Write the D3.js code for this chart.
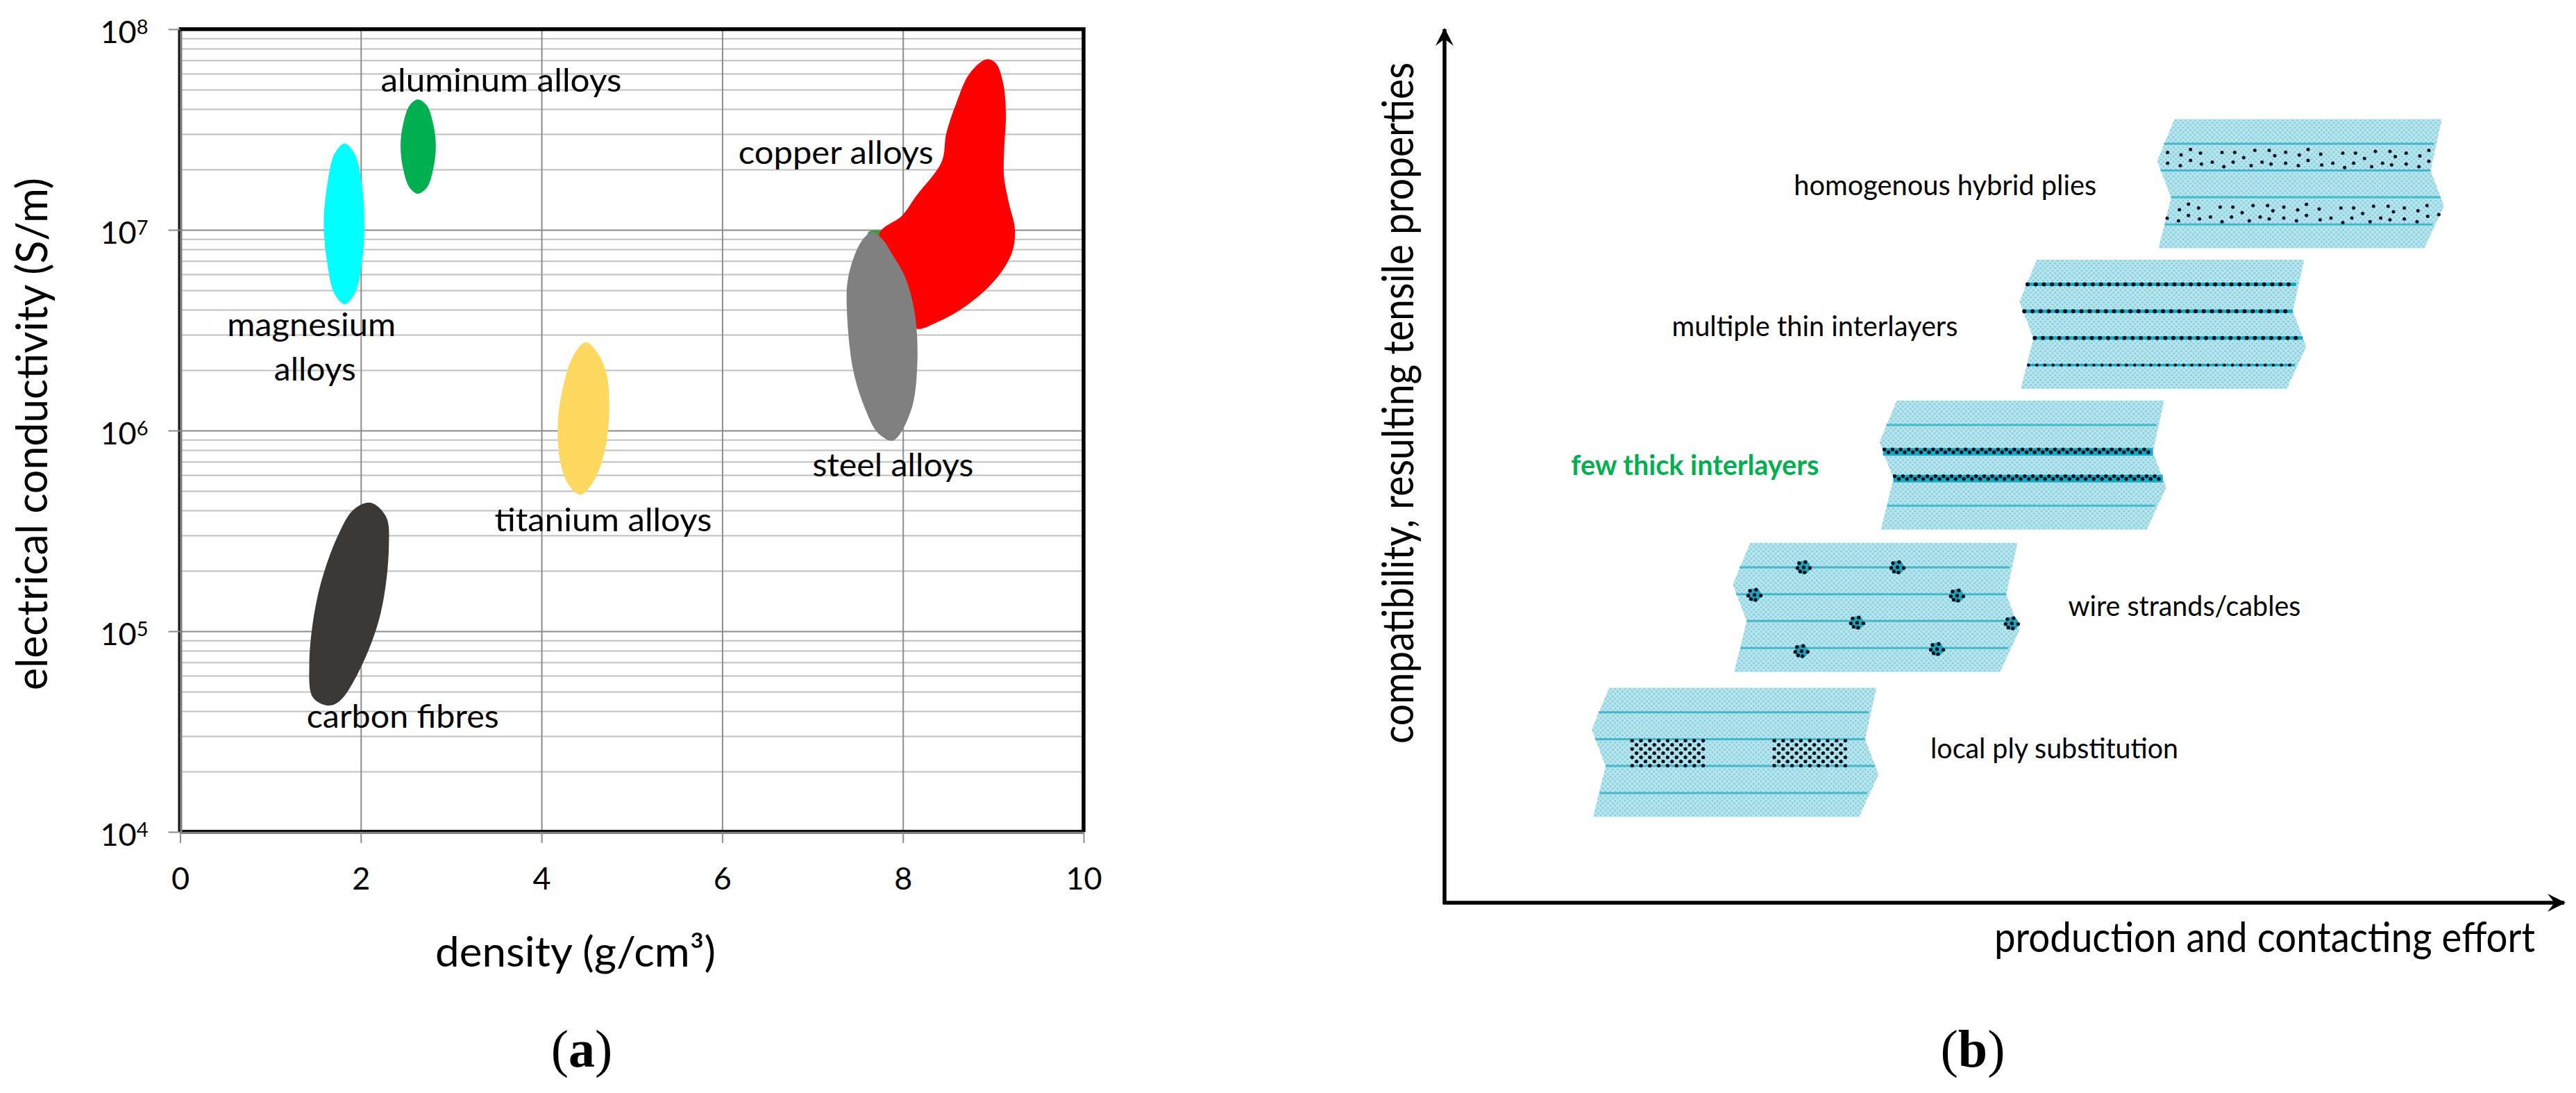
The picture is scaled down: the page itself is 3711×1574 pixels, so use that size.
<!DOCTYPE html>
<html>
<head>
<meta charset="utf-8">
<script src="https://cdn.jsdelivr.net/npm/d3@7"></script>
<style>
  body { margin: 0; background: #fff; }
  text { font-family: Lato, "Open Sans", sans-serif; fill: #000; }
</style>
</head>
<body>
<div id="chart"></div>
<script>
// panel a: outlines as [density, log10 conductivity]
var xTicks = [0, 2, 4, 6, 8, 10];
var decades = [1e4, 1e5, 1e6, 1e7, 1e8];
var minors = [];
[1e4, 1e5, 1e6, 1e7].forEach(function(d) {
  [2, 3, 4, 5, 6, 7, 8, 9].forEach(function(m) { minors.push(d * m); });
});

var sliver = [[7.62,6.99],[7.78,6.99],[7.78,6.95],[7.62,6.95]];
var copper = [[8.93,7.85],[9.03,7.83],[9.11,7.73],[9.14,7.58],[9.12,7.39],[9.12,7.26],[9.17,7.14],[9.24,7.00],[9.21,6.89],[9.09,6.79],[8.89,6.69],[8.63,6.60],[8.38,6.54],[8.13,6.51],[7.92,6.76],[7.74,6.98],[7.99,7.07],[8.15,7.17],[8.43,7.34],[8.48,7.48],[8.59,7.63],[8.74,7.78]];
var steel = [[7.66,6.99],[7.78,6.95],[7.88,6.88],[8.02,6.77],[8.13,6.59],[8.16,6.34],[8.09,6.10],[7.89,5.95],[7.72,5.99],[7.59,6.10],[7.45,6.30],[7.38,6.60],[7.39,6.75],[7.48,6.89],[7.57,6.96]];
var magnesium = [[1.82,7.43],[1.93,7.38],[2.01,7.23],[2.04,7.03],[2.01,6.83],[1.93,6.68],[1.82,6.63],[1.71,6.68],[1.63,6.83],[1.59,7.03],[1.63,7.23],[1.71,7.38]];
var aluminum = [[2.63,7.65],[2.73,7.62],[2.80,7.53],[2.83,7.42],[2.80,7.30],[2.73,7.21],[2.63,7.18],[2.54,7.21],[2.47,7.30],[2.44,7.42],[2.47,7.53],[2.54,7.62]];
var titanium = [[4.49,6.44],[4.63,6.38],[4.72,6.28],[4.75,6.10],[4.70,5.90],[4.58,5.75],[4.43,5.68],[4.30,5.73],[4.21,5.84],[4.18,6.03],[4.24,6.22],[4.35,6.37]];
var carbon = [[2.11,5.64],[2.28,5.57],[2.31,5.42],[2.22,5.09],[1.99,4.81],[1.76,4.65],[1.63,4.63],[1.47,4.67],[1.43,4.84],[1.53,5.19],[1.76,5.49],[1.93,5.61]];

var materialNames = ["sliver", "copper", "steel", "magnesium", "aluminum", "titanium", "carbon"];
var materialOutlines = [sliver, copper, steel, magnesium, aluminum, titanium, carbon];
var materialColors = ["#3a9a3a", "#ff0000", "#808080", "#00ffff", "#00b050", "#ffd85f", "#3b3835"];

var alloyLabels = ["aluminum alloys", "copper alloys", "magnesium", "alloys", "titanium alloys", "steel alloys", "carbon fibres"];
var alloyDensity = [2.22, 6.18, 0.52, 1.04, 3.48, 7.0, 1.40];
var alloyLog = [7.69, 7.33, 6.47, 6.25, 5.50, 5.77, 4.52];
var alloyWidth = [347, 281, 243, 118, 313, 232, 277];

// panel b: ply stacks
var plyNames = ["homogenous hybrid plies", "multiple thin interlayers", "few thick interlayers", "wire strands/cables", "local ply substitution"];
var plyEffort = [65.2, 52.9, 40.4, 27.3, 14.7];
var plyCompat = [89.7, 73.6, 57.5, 41.2, 24.6];
var labelEffort = [31.2, 20.3, 11.3, 55.7, 43.4];
var labelCompat = [81.0, 64.9, 49.0, 32.8, 16.5];
var labelWidth = [436, 412, 357, 335, 357];

var plyOutline = [[0,0],[1,0],[.958,.398],[1.008,.672],[.935,1],[-.06,1],[-.013,.608],[-.065,.323]];
var layerY = [.19, .398, .605, .815];
var layerFrom = [-.04, -.052, -.013, -.036];
var layerTo = [.971, .958, .995, .966];

var wireX = [.2, .551, .016, .774, .4, .979, .192, .699];
var wireY = [.19, .19, .403, .409, .618, .624, .839, .823];
var strandX = [-6.5, 2.5, -9, 0, 9, -5, 1.5];
var strandY = [-6, -7.5, 1, 0, 1, 6, 7.3];

var patchFrom = [.086, .618];
var patchTo = [.364, .896];

// in units of a 3x crop
var hybridTop = [[220,209],[278,219],[319,196],[362,212],[455,209],[510,209],[549,231],[597,200],[659,200],[683,223],[730,208],[789,220],[827,196],[882,216],[977,212],[1032,212],[1071,235],[1118,204],[1181,204],[1204,227],[1251,212],[1310,224],[1349,200],[220,255],[275,266],[319,243],[366,259],[413,251],[463,270],[503,251],[581,266],[628,251],[667,259],[730,255],[785,266],[827,243],[886,263],[934,255],[985,274],[1024,255],[1102,270],[1149,255],[1188,263],[1251,259],[1306,270],[1349,247]];
var hybridBottom = [[271,456],[310,432],[354,449],[447,445],[502,445],[542,469],[589,438],[652,438],[675,461],[722,445],[782,457],[820,433],[875,453],[969,449],[1024,449],[1063,473],[1110,441],[1173,441],[1196,465],[1243,449],[1302,461],[1341,438],[218,493],[267,504],[310,481],[358,496],[405,488],[455,508],[496,488],[573,504],[620,488],[659,496],[722,492],[777,504],[820,481],[879,500],[926,492],[977,512],[1016,492],[1095,508],[1141,492],[1181,500],[1243,496],[1298,508],[1344,485],[1392,477]];

var W = 3711, H = 1574;

var svg = d3.select("#chart").append("svg")
  .attr("width", W)
  .attr("height", H)
  .style("display", "block");

var defs = svg.append("defs");
var pat = defs.append("pattern")
  .attr("id", "weave")
  .attr("width", 7)
  .attr("height", 7)
  .attr("patternUnits", "userSpaceOnUse");
pat.append("rect").attr("width", 7).attr("height", 7).attr("fill", "#b4e7f0");
pat.append("circle").attr("cx", 1.75).attr("cy", 1.75).attr("r", 1.3).attr("fill", "#82c0cd");
pat.append("circle").attr("cx", 5.25).attr("cy", 5.25).attr("r", 1.3).attr("fill", "#82c0cd");

defs.append("marker")
  .attr("id", "head")
  .attr("viewBox", "0 0 26 26")
  .attr("refX", 24)
  .attr("refY", 13)
  .attr("markerWidth", 26)
  .attr("markerHeight", 26)
  .attr("markerUnits", "userSpaceOnUse")
  .attr("orient", "auto")
  .append("path")
  .attr("d", "M0,0L26,13L0,26L10,13Z")
  .attr("fill", "#000");

// ---- panel a ----
var x = d3.scaleLinear().domain([0, 10]).range([259.5, 1561]);
var y = d3.scaleLog().domain([1e4, 1e8]).range([1198, 42]);

var a = svg.append("g");

a.append("g")
  .attr("class", "minor")
  .attr("transform", "translate(" + x(0) + ",0)")
  .call(d3.axisLeft(y).tickValues(minors).tickSize(-(x(10) - x(0))).tickFormat(""))
  .call(function(g) {
    g.select(".domain").remove();
    g.selectAll("line").attr("stroke", "#c0c0c0").attr("stroke-width", 2);
  });

a.append("g")
  .attr("transform", "translate(" + x(0) + ",0)")
  .call(d3.axisLeft(y).tickValues(decades).tickSize(-(x(10) - x(0))).tickFormat(""))
  .call(function(g) {
    g.select(".domain").remove();
    g.selectAll("line").attr("stroke", "#8c8c8c").attr("stroke-width", 2);
  });

a.append("g")
  .attr("transform", "translate(0," + y(1e4) + ")")
  .call(d3.axisBottom(x).tickValues(xTicks).tickSize(-(y(1e4) - y(1e8))).tickFormat(""))
  .call(function(g) {
    g.select(".domain").remove();
    g.selectAll("line").attr("stroke", "#8c8c8c").attr("stroke-width", 2);
  });

var outline = d3.line()
  .x(function(d) { return x(d[0]); })
  .y(function(d) { return y(Math.pow(10, d[1])); })
  .curve(d3.curveCatmullRomClosed.alpha(0.5));

a.selectAll("path.blob")
  .data(materialNames)
  .enter().append("path")
  .attr("class", "blob")
  .attr("d", function(d, i) { return outline(materialOutlines[i]); })
  .attr("fill", function(d, i) { return materialColors[i]; });

// frame: black top and right, black with a grey inner edge left and bottom
a.append("path")
  .attr("d", "M" + (x(0) - 2) + "," + y(1e8) + "H" + x(10) + "V" + y(1e4))
  .attr("fill", "none")
  .attr("stroke", "#000")
  .attr("stroke-width", 5.5);
a.append("path")
  .attr("d", "M" + (x(0) - 1.5) + "," + y(1e8) + "V" + (y(1e4) - 1.5) + "H" + x(10))
  .attr("fill", "none")
  .attr("stroke", "#111")
  .attr("stroke-width", 3);
a.append("path")
  .attr("d", "M" + (x(0) + 1.5) + "," + (y(1e8) + 3) + "V" + (y(1e4) + 1.5) + "H" + x(10))
  .attr("fill", "none")
  .attr("stroke", "#808080")
  .attr("stroke-width", 3);

// tick labels
var xAxis = a.append("g")
  .attr("transform", "translate(0," + y(1e4) + ")")
  .call(d3.axisBottom(x).tickValues(xTicks).tickSize(16));
xAxis.select(".domain").remove();
xAxis.selectAll("line").attr("stroke", "#8c8c8c").attr("stroke-width", 2);
xAxis.selectAll("text")
  .style("font-family", "Lato")
  .attr("font-size", 45)
  .attr("y", 83)
  .attr("dy", 0);

var yAxis = a.append("g")
  .attr("transform", "translate(" + x(0) + ",0)")
  .call(d3.axisLeft(y).tickValues(decades).tickSize(17).tickFormat(""));
yAxis.select(".domain").remove();
yAxis.selectAll("line").attr("stroke", "#8c8c8c").attr("stroke-width", 2);
yAxis.selectAll("g.tick").each(function(d) {
  var t = d3.select(this).append("text")
    .attr("x", -115)
    .attr("y", 19)
    .attr("text-anchor", "start")
    .attr("font-size", 45)
    .attr("fill", "#000");
  t.append("tspan").text("10");
  t.append("tspan")
    .attr("font-size", 29)
    .attr("dy", -13)
    .text(Math.round(Math.log10(d)));
});

a.selectAll("text.alloy")
  .data(alloyLabels)
  .enter().append("text")
  .attr("class", "alloy")
  .attr("x", function(d, i) { return x(alloyDensity[i]); })
  .attr("y", function(d, i) { return y(Math.pow(10, alloyLog[i])); })
  .attr("font-size", 47)
  .attr("textLength", function(d, i) { return alloyWidth[i]; })
  .attr("lengthAdjust", "spacingAndGlyphs")
  .text(function(d) { return d; });

a.append("text")
  .attr("x", 627)
  .attr("y", 1392)
  .attr("font-size", 60)
  .attr("textLength", 404)
  .attr("lengthAdjust", "spacingAndGlyphs")
  .text("density (g/cm³)");

a.append("text")
  .attr("transform", "translate(68,994) rotate(-90)")
  .attr("font-size", 62)
  .attr("textLength", 738)
  .attr("lengthAdjust", "spacingAndGlyphs")
  .text("electrical conductivity (S/m)");

// ---- panel b ----
var effort = d3.scaleLinear().domain([0, 100]).range([2081, 3694]);
var compat = d3.scaleLinear().domain([0, 100]).range([1300, 42]);
var plyX = d3.scaleLinear().domain([0, 1]).range([0, 385]);
var plyY = d3.scaleLinear().domain([0, 1]).range([0, 186]);
var hybridX = d3.scaleLinear().domain([250, 1405]).range([0, 385]);
var hybridY = d3.scaleLinear().domain([65, 625]).range([0, 186.7]);

var b = svg.append("g");

b.append("line")
  .attr("x1", effort(0)).attr("x2", effort(0))
  .attr("y1", compat(0) + 2).attr("y2", compat(100))
  .attr("stroke", "#000").attr("stroke-width", 5.5)
  .attr("marker-end", "url(#head)");
b.append("line")
  .attr("x1", effort(0) - 2).attr("x2", effort(100))
  .attr("y1", compat(0)).attr("y2", compat(0))
  .attr("stroke", "#000").attr("stroke-width", 5.5)
  .attr("marker-end", "url(#head)");

var plyLine = d3.line()
  .x(function(d) { return plyX(d[0]); })
  .y(function(d) { return plyY(d[1]); })
  .curve(d3.curveLinearClosed);

var plies = b.selectAll("g.ply")
  .data(plyNames)
  .enter().append("g")
  .attr("class", "ply")
  .attr("transform", function(d, i) {
    return "translate(" + effort(plyEffort[i]) + "," + compat(plyCompat[i]) + ")";
  });

plies.append("path")
  .attr("d", plyLine(plyOutline))
  .attr("fill", "url(#weave)");

plies.each(function(name, p) {
  var g = d3.select(this);
  layerY.forEach(function(ly, i) {
    var sw = 3;
    if (p == 1) sw = i == 3 ? 3.5 : 5;
    if (p == 2 && (i == 1 || i == 2)) sw = 11;
    g.append("line")
      .attr("x1", plyX(layerFrom[i])).attr("x2", plyX(layerTo[i]))
      .attr("y1", plyY(ly)).attr("y2", plyY(ly))
      .attr("stroke", sw > 3 ? "#14a9c4" : "#45b8ce")
      .attr("stroke-width", sw);
  });
});

function dots(g, cx, cy, r) {
  g.append("circle").attr("cx", cx).attr("cy", cy).attr("r", r).attr("fill", "#03111c");
}

// hybrid dots
var hybrid = plies.filter(function(d, i) { return i == 0; });
hybridTop.concat(hybridBottom).forEach(function(d) {
  dots(hybrid, hybridX(d[0]), hybridY(d[1]), 2.5);
});

// thin interlayers
var thin = plies.filter(function(d, i) { return i == 1; });
layerY.forEach(function(ly, i) {
  d3.range(plyX(layerFrom[i]) + 2, plyX(layerTo[i]), 11.75).forEach(function(px) {
    dots(thin, px, plyY(ly), i == 3 ? 2.3 : 3);
  });
});

// thick interlayers
var thick = plies.filter(function(d, i) { return i == 2; });
[1, 2].forEach(function(i) {
  d3.range(plyX(layerFrom[i]) + 2, plyX(layerTo[i]) - 1, 5.85).forEach(function(px, k) {
    dots(thick, px, plyY(layerY[i]) + (k % 2 ? 0.5 : -3.5), 2.7);
  });
});

// wires
var wires = plies.filter(function(d, i) { return i == 3; });
wireX.forEach(function(wx, i) {
  wires.append("circle")
    .attr("cx", plyX(wx)).attr("cy", plyY(wireY[i]))
    .attr("r", 9.5).attr("fill", "#1aa5bd");
  strandX.forEach(function(sx, s) {
    dots(wires, plyX(wx) + sx, plyY(wireY[i]) + strandY[s], 2.7);
  });
});

// local substitution patches
var local = plies.filter(function(d, i) { return i == 4; });
patchFrom.forEach(function(from, i) {
  d3.range(plyY(.409), plyY(.602) + 1, 6).forEach(function(py, row) {
    d3.range(plyX(from) + (row % 2 ? 6.4 : 0), plyX(patchTo[i]) + 1, 12.8).forEach(function(px) {
      dots(local, px, py, 2.7);
    });
  });
});

b.selectAll("text.ply-label")
  .data(plyNames)
  .enter().append("text")
  .attr("class", "ply-label")
  .attr("x", function(d, i) { return effort(labelEffort[i]); })
  .attr("y", function(d, i) { return compat(labelCompat[i]); })
  .attr("font-size", 40)
  .attr("textLength", function(d, i) { return labelWidth[i]; })
  .attr("lengthAdjust", "spacingAndGlyphs")
  .attr("font-weight", function(d, i) { return i == 2 ? 700 : 400; })
  .style("fill", function(d, i) { return i == 2 ? "#00b050" : "#000"; })
  .text(function(d) { return d; });

b.append("text")
  .attr("x", 2873)
  .attr("y", 1371)
  .attr("font-size", 60)
  .attr("textLength", 779)
  .attr("lengthAdjust", "spacingAndGlyphs")
  .text("production and contacting effort");

b.append("text")
  .attr("transform", "translate(2036,1071) rotate(-90)")
  .attr("font-size", 62)
  .attr("textLength", 981)
  .attr("lengthAdjust", "spacingAndGlyphs")
  .text("compatibility, resulting tensile properties");

// panel letters
var letters = ["a", "b"];
var letterX = [838, 2842];
svg.selectAll("text.letter")
  .data(letters)
  .enter().append("text")
  .attr("class", "letter")
  .attr("x", function(d, i) { return letterX[i]; })
  .attr("y", 1536)
  .attr("text-anchor", "middle")
  .attr("font-size", 76)
  .style("font-family", "'Liberation Serif', serif")
  .each(function(d) {
    var t = d3.select(this);
    t.append("tspan").text("(");
    t.append("tspan").attr("font-weight", 700).text(d);
    t.append("tspan").text(")");
  });
</script>
</body>
</html>
